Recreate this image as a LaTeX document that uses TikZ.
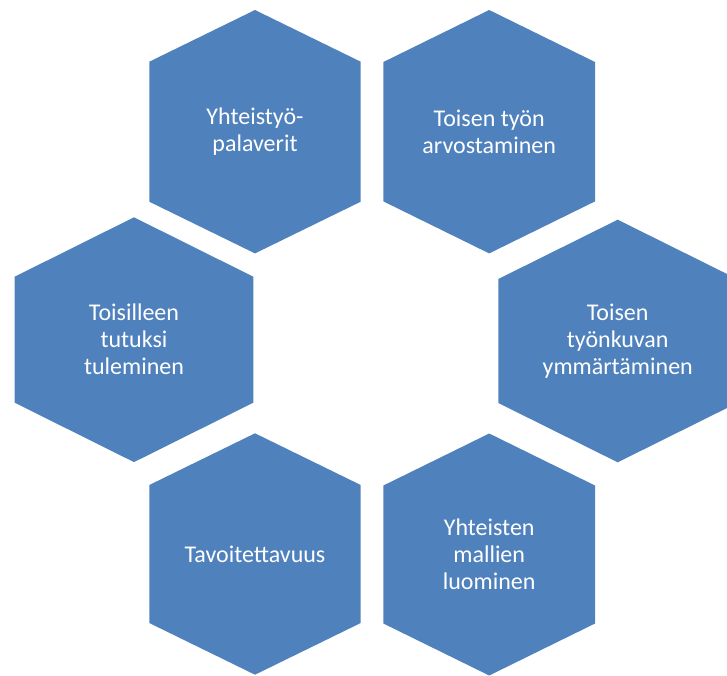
\documentclass[tikz,border=0pt]{standalone}
\usepackage{fontspec}
\setmainfont{Carlito}
\definecolor{hexblue}{HTML}{4F81BD}
\tikzset{
  hexfill/.style={fill=hexblue},
  hextext/.style={text=white, align=center, font=\fontsize{24}{27}\selectfont, inner sep=0pt}
}
\newcommand{\hexshape}[6]{% name, cx, cy, halfwidth, halfside, halfheight
  \fill[hexfill, shift={(#2,#3)}] (0,-#6) -- (#4,-#5) -- (#4,#5) -- (0,#6) -- (-#4,#5) -- (-#4,-#5) -- cycle;
  \coordinate (#1) at (#2,#3);
}
\begin{document}
\begin{tikzpicture}[x=1pt,y=-1pt]
\useasboundingbox (0,0) rectangle (727,675);
\clip (0,0) rectangle (727,675);
\hexshape{h1}{255}{131.7}{105.7}{70}{121.7}
\hexshape{h2}{489.2}{131.7}{105.8}{69.7}{121.7}
\hexshape{h3}{134}{339.7}{119.3}{63}{122.4}
\hexshape{h4}{617.7}{341}{119.4}{62}{121.3}
\hexshape{h5}{255}{554}{105.7}{69}{120.7}
\hexshape{h6}{489.2}{554.5}{105.8}{69}{121}
\node[hextext] (t1) at (h1) {Yhteistyö-\\palaverit};
\node[hextext] (t2) at (h2) {Toisen työn\\arvostaminen};
\node[hextext] (t3) at (h3) {Toisilleen\\tutuksi\\tuleminen};
\node[hextext] (t4) at (h4) {Toisen\\työnkuvan\\ymmärtäminen};
\node[hextext] (t5) at (h5) {Tavoitettavuus};
\node[hextext] (t6) at (h6) {Yhteisten\\mallien\\luominen};
\end{tikzpicture}
\end{document}
